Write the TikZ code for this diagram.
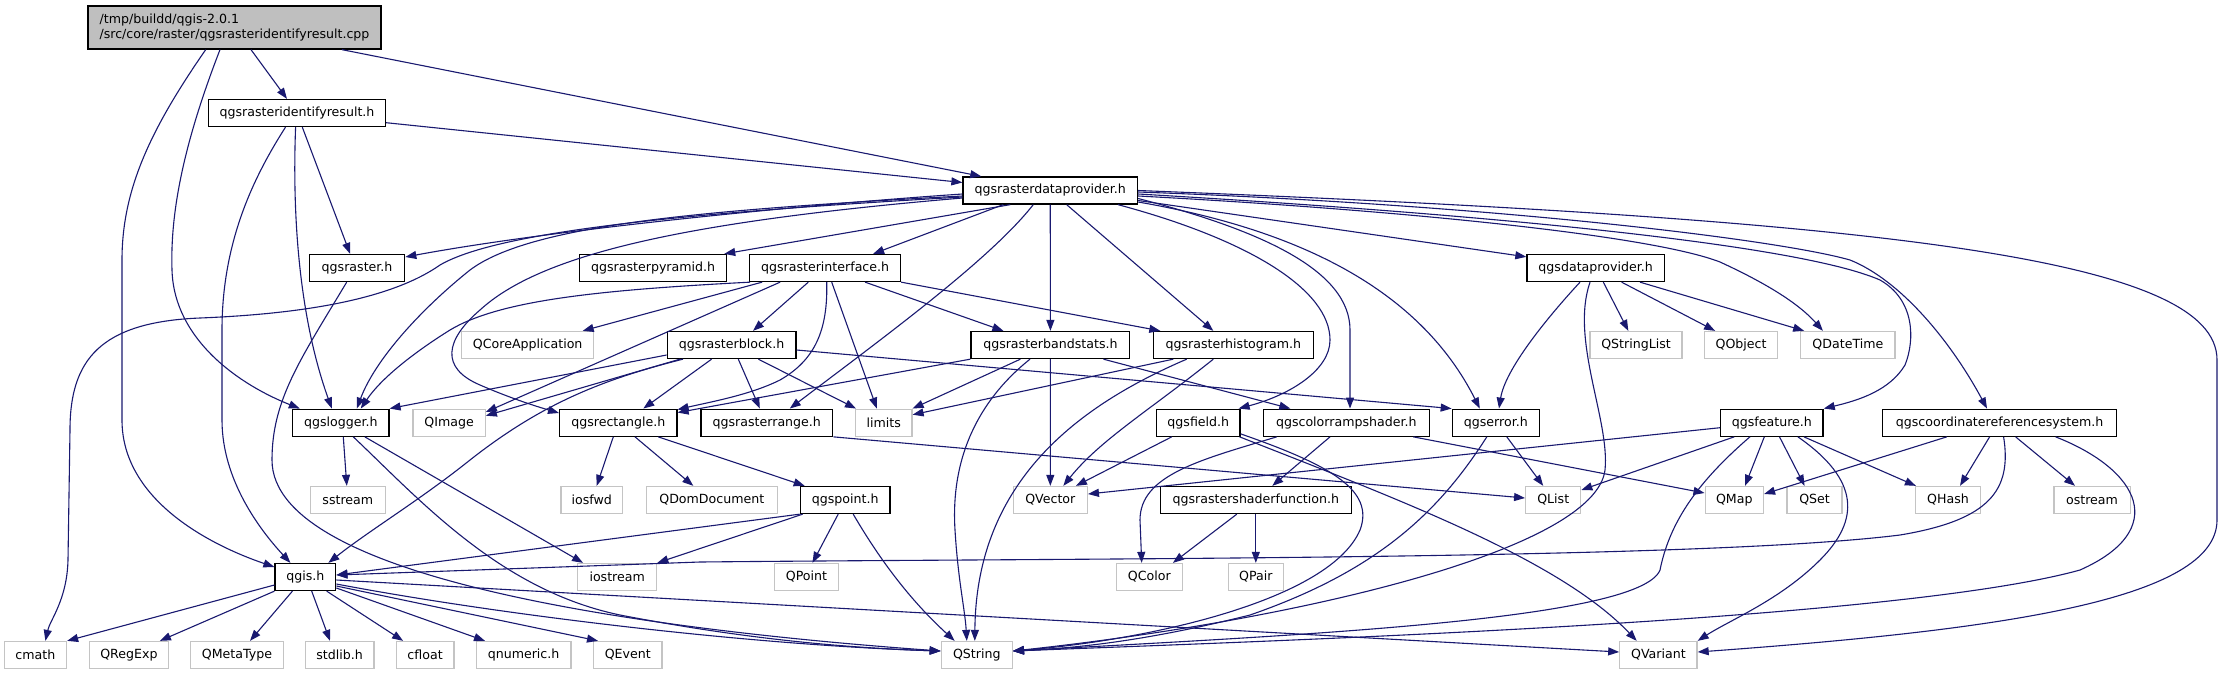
\documentclass[tikz,border=0pt]{standalone}
\usepackage{fontspec}
\setmainfont{DejaVu Sans}
\usetikzlibrary{arrows.meta}
\definecolor{edgecol}{HTML}{191970}
\definecolor{extgray}{HTML}{C4C4C4}
\definecolor{rootfill}{HTML}{BFBFBF}
\begin{document}
\begin{tikzpicture}[x=1pt,y=-1pt,
  basebox/.style={rectangle,inner sep=0pt,minimum height=27pt,fill=white,font=\fontsize{12.6}{15}\selectfont},
  docbox/.style={basebox,draw=black,line width=1.3pt},
  extbox/.style={basebox,draw=extgray,line width=1.3pt},
  edg/.style={draw=edgecol,line width=1.1pt,-{Triangle[length=11pt,width=8pt]}}]
\fill[white] (0,0) rectangle (2223,675);
\useasboundingbox (0,0) rectangle (2223,675);
% nodes
\node[docbox,fill=rootfill,minimum width=293pt,minimum height=43pt,align=left] (root) at (234.5,27.5) {/tmp/buildd/qgis-2.0.1\\/src/core/raster/qgsrasteridentifyresult.cpp};
\node[docbox,minimum width=177pt] (idres) at (297,113) {qgsrasteridentifyresult.h};
\node[docbox,minimum width=174.5pt] (dp) at (1050.25,190.5) {qgsrasterdataprovider.h};
\node[docbox,minimum width=95.2pt] (raster) at (357.1,268) {qgsraster.h};
\node[docbox,minimum width=147pt] (pyramid) at (653.1,268) {qgsrasterpyramid.h};
\node[docbox,minimum width=150.8pt] (iface) at (825.1,268) {qgsrasterinterface.h};
\node[docbox,minimum width=137.3pt] (qdp) at (1595.6,268) {qgsdataprovider.h};
\node[extbox,minimum width=132pt] (qcore) at (527.7,345) {QCoreApplication};
\node[docbox,minimum width=128.7pt] (block) at (731.6,345) {qgsrasterblock.h};
\node[docbox,minimum width=158.8pt] (bandstats) at (1050.4,345) {qgsrasterbandstats.h};
\node[docbox,minimum width=160pt] (histo) at (1233.3,345) {qgsrasterhistogram.h};
\node[extbox,minimum width=92pt] (qstrlist) at (1636,345) {QStringList};
\node[extbox,minimum width=73pt] (qobject) at (1741.1,345) {QObject};
\node[extbox,minimum width=94.2pt] (qdatetime) at (1847.9,345) {QDateTime};
\node[docbox,minimum width=96.3pt] (logger) at (340.8,422.7) {qgslogger.h};
\node[extbox,minimum width=72.3pt] (qimage) at (449.1,422.7) {QImage};
\node[docbox,minimum width=117.3pt] (rect) at (618.3,422.7) {qgsrectangle.h};
\node[docbox,minimum width=131.7pt] (range) at (766.8,422.7) {qgsrasterrange.h};
\node[extbox,minimum width=56.3pt] (limits) at (883.8,422.7) {limits};
\node[docbox,minimum width=83.3pt] (field) at (1198.3,422.7) {qgsfield.h};
\node[docbox,minimum width=166pt] (crshader) at (1346.3,422.7) {qgscolorrampshader.h};
\node[docbox,minimum width=87pt] (error) at (1495.8,422.7) {qgserror.h};
\node[docbox,minimum width=102.4pt] (feature) at (1771.9,422.7) {qgsfeature.h};
\node[docbox,minimum width=233.7pt] (crs) at (1999.6,422.7) {qgscoordinatereferencesystem.h};
\node[extbox,minimum width=75pt] (sstream) at (347.8,500) {sstream};
\node[extbox,minimum width=61.3pt] (iosfwd) at (591.7,500) {iosfwd};
\node[extbox,minimum width=131pt] (qdom) at (711.8,500) {QDomDocument};
\node[docbox,minimum width=89.7pt] (point) at (845.2,500) {qgspoint.h};
\node[extbox,minimum width=74pt] (qvector) at (1050.3,500) {QVector};
\node[docbox,minimum width=191pt] (shfunc) at (1255.8,500) {qgsrastershaderfunction.h};
\node[extbox,minimum width=55pt] (qlist) at (1553.2,500) {QList};
\node[extbox,minimum width=58.3pt] (qmap) at (1734.3,500) {QMap};
\node[extbox,minimum width=55pt] (qset) at (1814.6,500) {QSet};
\node[extbox,minimum width=64.9pt] (qhash) at (1948,500) {QHash};
\node[extbox,minimum width=76.3pt] (ostream) at (2092,500) {ostream};
\node[docbox,minimum width=60.7pt] (qgis) at (305.4,577) {qgis.h};
\node[extbox,minimum width=79pt] (iostream) at (617.2,577) {iostream};
\node[extbox,minimum width=64.4pt] (qpoint) at (806.5,577) {QPoint};
\node[extbox,minimum width=66pt] (qcolor) at (1149.3,577) {QColor};
\node[extbox,minimum width=55pt] (qpair) at (1255.8,577) {QPair};
\node[extbox,minimum width=62.2pt] (cmath) at (35.4,655) {cmath};
\node[extbox,minimum width=79pt] (qregexp) at (128.9,655) {QRegExp};
\node[extbox,minimum width=92.5pt] (qmetatype) at (237,655) {QMetaType};
\node[extbox,minimum width=68.7pt] (stdlib) at (339.6,655) {stdlib.h};
\node[extbox,minimum width=57.7pt] (cfloat) at (425.1,655) {cfloat};
\node[extbox,minimum width=94.7pt] (qnumeric) at (523.6,655) {qnumeric.h};
\node[extbox,minimum width=68.3pt] (qevent) at (627.8,655) {QEvent};
\node[extbox,minimum width=71pt] (qstring) at (976.8,655) {QString};
\node[extbox,minimum width=77.2pt] (qvariant) at (1658.4,655) {QVariant};
% root
\draw[edg] ([xshift=16.5pt]root.south) -- ([xshift=-10pt]idres.north);
\draw[edg] ([xshift=107.5pt]root.south) -- ([xshift=-69pt]dp.north);
\draw[edg] ([xshift=-14.5pt]root.south) .. controls (185,140) and (170,210) .. (172,270) .. controls (174,340) and (240,385) .. ([xshift=-41pt]logger.north);
\draw[edg] ([xshift=-28.8pt]root.south) .. controls (150,130) and (122,190) .. (122,260) -- (122,420) .. controls (122,500) and (210,545) .. ([yshift=10pt]qgis.west);
% identifyresult.h
\draw[edg] ([xshift=-11.5pt]idres.south) .. controls (255,175) and (222,240) .. (222,330) -- (222,420) .. controls (222,480) and (260,530) .. ([xshift=-15pt]qgis.north);
\draw[edg] ([xshift=-1.4pt]idres.south) .. controls (292,220) and (300,320) .. ([xshift=-9pt]logger.north);
\draw[edg] ([xshift=5.3pt]idres.south) -- ([xshift=-7pt]raster.north);
\draw[edg] ([yshift=-9.7pt]idres.east) -- ([yshift=8pt]dp.west);
% raster
\draw[edg] ([xshift=-10.4pt]raster.south) .. controls (300,360) and (272,400) .. (272,460) .. controls (272,580) and (650,630) .. ([yshift=4pt]qstring.west);
% dataprovider left
\draw[edg] ([yshift=-3.5pt]dp.west) .. controls (800,205) and (550,230) .. ([yshift=11pt]raster.east);
\draw[edg] ([xshift=-40pt]dp.south) -- ([xshift=-3pt]pyramid.north east);
\draw[edg] ([yshift=-5.5pt]dp.west) .. controls (700,210) and (530,225) .. (470,270) .. controls (420,310) and (375,360) .. ([xshift=16pt]logger.north);
\draw[edg] ([yshift=-6.5pt]dp.west) .. controls (700,212) and (500,230) .. (440,265) .. controls (390,300) and (300,314) .. (200,318) .. controls (100,322) and (70,360) .. (70,430) -- (68,560) .. controls (67,600) and (50,620) .. ([xshift=10pt]cmath.north);
\draw[edg] ([yshift=-7.5pt]dp.west) .. controls (680,222) and (540,255) .. (480,310) .. controls (445,340) and (440,368) .. (480,385) .. controls (510,398) and (535,406) .. ([yshift=9.7pt]rect.west);
\draw[edg] ([xshift=-47pt]dp.south) -- ([xshift=48pt]iface.north);
\draw[edg] ([xshift=-17pt]dp.south) .. controls (990,260) and (880,340) .. ([xshift=23pt]range.north);
\draw[edg] (dp.south) -- (bandstats.north);
\draw[edg] ([xshift=16.4pt]dp.south) -- ([xshift=-20pt]histo.north);
% dataprovider right
\draw[edg] ([yshift=-10pt]dp.east) -- ([yshift=-3pt]qdp.north west);
\draw[edg] ([yshift=-5.5pt]dp.east) .. controls (1400,210) and (1650,235) .. (1720,262) .. controls (1770,285) and (1800,305) .. ([xshift=-25pt]qdatetime.north);
\draw[edg] ([xshift=67.75pt]dp.south) .. controls (1250,240) and (1330,290) .. (1330,340) .. controls (1330,370) and (1290,395) .. ([xshift=-2pt]field.north east);
\draw[edg] ([yshift=-8pt]dp.east) .. controls (1260,230) and (1350,270) .. (1350,330) -- ([xshift=3.7pt]crshader.north);
\draw[edg] ([yshift=-11.5pt]dp.east) .. controls (1300,230) and (1420,290) .. ([xshift=-16pt]error.north);
\draw[edg] ([yshift=-3.5pt]dp.east) .. controls (1500,215) and (1800,245) .. (1880,280) .. controls (1915,300) and (1915,340) .. (1905,365) .. controls (1890,390) and (1860,400) .. (feature.north east);
\draw[edg] ([yshift=-1.5pt]dp.east) .. controls (1500,205) and (1780,240) .. (1850,260) .. controls (1900,280) and (1950,340) .. ([xshift=-12.6pt]crs.north);
\draw[edg] (dp.east) .. controls (1900,220) and (2217,260) .. (2217,360) -- (2217,520) .. controls (2217,600) and (2000,630) .. ([yshift=3pt]qvariant.east);
% interface
\draw[edg] ([xshift=-75pt]iface.south) .. controls (600,290) and (500,300) .. (450,330) .. controls (410,355) and (380,380) .. ([xshift=20pt]logger.north);
\draw[edg] ([xshift=-63pt]iface.south) -- ([xshift=55pt]qcore.north);
\draw[edg] ([xshift=-45pt]iface.south) -- ([yshift=10.7pt]qimage.east);
\draw[edg] ([xshift=-16.8pt]iface.south) -- ([xshift=21.4pt]block.north);
\draw[edg] ([xshift=6.6pt]iface.south) -- ([xshift=-7pt]limits.north);
\draw[edg] ([xshift=1.6pt]iface.south) .. controls (828,330) and (815,360) .. (780,380) .. controls (750,395) and (710,402) .. ([yshift=-1pt]rect.north east);
\draw[edg] ([xshift=40pt]iface.south) -- ([xshift=-47pt]bandstats.north);
\draw[edg] (iface.south east) -- ([xshift=-73pt]histo.north);
% block
\draw[edg] ([yshift=-10pt]block.west) -- (logger.north east);
\draw[edg] ([xshift=-51.6pt]block.south) -- ([yshift=7pt]qimage.east);
\draw[edg] ([xshift=-20pt]block.south) -- ([xshift=25pt]rect.north);
\draw[edg] ([xshift=6.7pt]block.south) -- ([xshift=-7pt]range.north);
\draw[edg] ([xshift=26.7pt]block.south) -- ([xshift=1pt]limits.north west);
\draw[edg] ([xshift=-48.6pt]block.south) .. controls (600,380) and (540,405) .. (470,460) .. controls (420,500) and (370,530) .. ([xshift=-8pt]qgis.north east);
\draw[edg] ([yshift=-5pt]block.east) -- (error.north west);
% bandstats
\draw[edg] ([xshift=-30pt]bandstats.south) -- (limits.north east);
\draw[edg] (bandstats.south west) -- ([yshift=-4pt]rect.north east);
\draw[edg] ([xshift=-20.4pt]bandstats.south) .. controls (985,395) and (950,450) .. (955,530) .. controls (958,580) and (965,610) .. ([xshift=-10pt]qstring.north);
\draw[edg] (bandstats.south) -- (qvector.north);
\draw[edg] ([xshift=53pt]bandstats.south) -- ([xshift=-56pt]crshader.north);
% histogram
\draw[edg] ([xshift=-60pt]histo.south) -- ([yshift=8pt]limits.east);
\draw[edg] ([xshift=-46.6pt]histo.south) .. controls (1080,405) and (976,480) .. ([xshift=-2pt]qstring.north);
\draw[edg] ([xshift=-20pt]histo.south) .. controls (1150,410) and (1100,440) .. ([xshift=13pt]qvector.north);
% rectangle
\draw[edg] ([xshift=-5pt]rect.south) -- ([xshift=5pt]iosfwd.north);
\draw[edg] ([xshift=16.7pt]rect.south) -- ([xshift=-18.5pt]qdom.north);
\draw[edg] ([xshift=40pt]rect.south) -- ([xshift=5pt]point.north west);
% point
\draw[edg] (point.south west) -- ([yshift=2pt]qgis.east);
\draw[edg] ([xshift=3pt]point.south west) -- (iostream.north east);
\draw[edg] ([xshift=-7pt]point.south) -- ([xshift=6pt]qpoint.north);
\draw[edg] ([xshift=8pt]point.south) .. controls (880,560) and (910,600) .. ([xshift=14pt]qstring.north west);
% qgis
\draw[edg] ([yshift=-8pt]qgis.west) -- (cmath.north east);
\draw[edg] (qgis.south west) -- ([xshift=31pt]qregexp.north);
\draw[edg] ([xshift=-13pt]qgis.south) -- ([xshift=13pt]qmetatype.north);
\draw[edg] ([xshift=6.3pt]qgis.south) -- ([xshift=-9.6pt]stdlib.north);
\draw[edg] ([xshift=21.3pt]qgis.south) -- ([xshift=-22pt]cfloat.north);
\draw[edg] ([yshift=-11pt]qgis.east) -- ([xshift=-38.6pt]qnumeric.north);
\draw[edg] ([yshift=-9pt]qgis.east) -- ([xshift=5pt]qevent.north west);
\draw[edg] ([yshift=-7pt]qgis.east) .. controls (500,615) and (750,645) .. ([yshift=4pt]qstring.west);
\draw[edg] ([yshift=-3pt]qgis.east) -- ([yshift=3pt]qvariant.west);
% logger
\draw[edg] ([xshift=2.5pt]logger.south) -- ([xshift=-1pt]sstream.north);
\draw[edg] ([xshift=24pt]logger.south) -- ([xshift=6pt]iostream.north west);
\draw[edg] ([xshift=12.5pt]logger.south) .. controls (420,500) and (500,590) .. (620,615) .. controls (750,640) and (850,648) .. ([yshift=4pt]qstring.west);
% qgsdataprovider
\draw[edg] ([xshift=-15.6pt]qdp.south) .. controls (1545,320) and (1505,370) .. ([xshift=3.2pt]error.north);
\draw[edg] ([xshift=-5.6pt]qdp.south) .. controls (1570,340) and (1610,420) .. (1605,470) .. controls (1595,550) and (1300,620) .. ([yshift=4pt]qstring.east);
\draw[edg] ([xshift=7.7pt]qdp.south) -- ([xshift=-7.7pt]qstrlist.north);
\draw[edg] ([xshift=26pt]qdp.south) -- ([xshift=-26pt]qobject.north);
\draw[edg] ([xshift=44.4pt]qdp.south) -- ([xshift=4pt]qdatetime.north west);
% error
\draw[edg] ([xshift=11pt]error.south) -- ([xshift=-10pt]qlist.north);
\draw[edg] ([xshift=-9pt]error.south) .. controls (1440,510) and (1380,570) .. (1250,615) .. controls (1150,640) and (1080,648) .. ([yshift=4pt]qstring.east);
% range
\draw[edg] (range.south east) -- ([yshift=2pt]qlist.west);
% field
\draw[edg] ([xshift=-26.6pt]field.south) -- ([xshift=-12pt]qvector.north east);
\draw[edg] ([yshift=3pt]field.south east) .. controls (1330,465) and (1375,490) .. (1360,530) .. controls (1330,600) and (1150,640) .. ([yshift=4pt]qstring.east);
\draw[edg] ([xshift=-1pt]field.south east) .. controls (1400,500) and (1560,560) .. ([xshift=-21.7pt]qvariant.north);
% colorrampshader
\draw[edg] ([xshift=-69.6pt]crshader.south) .. controls (1200,460) and (1140,475) .. (1140,520) -- ([xshift=-7.6pt]qcolor.north);
\draw[edg] ([xshift=-16.3pt]crshader.south) -- ([xshift=16.5pt]shfunc.north);
\draw[edg] ([xshift=67pt]crshader.south) -- ([yshift=7pt]qmap.west);
% shaderfunction
\draw[edg] ([xshift=-19pt]shfunc.south) -- ([xshift=-10pt]qcolor.north east);
\draw[edg] (shfunc.south) -- (qpair.north);
% feature
\draw[edg] ([yshift=-5pt]feature.west) -- ([yshift=6pt]qvector.east);
\draw[edg] ([xshift=-37.7pt]feature.south) -- ([yshift=10pt]qlist.east);
\draw[edg] ([xshift=-22pt]feature.south) .. controls (1700,480) and (1670,520) .. (1660,570) .. controls (1640,620) and (1300,635) .. ([yshift=4pt]qstring.east);
\draw[edg] ([xshift=-7.6pt]feature.south) -- ([xshift=10.7pt]qmap.north);
\draw[edg] ([xshift=7.6pt]feature.south) -- ([xshift=-10pt]qset.north);
\draw[edg] ([xshift=32pt]feature.south) -- ([xshift=1pt]qhash.north west);
\draw[edg] ([xshift=26pt]feature.south) .. controls (1860,480) and (1860,520) .. (1820,560) .. controls (1780,600) and (1730,620) .. (qvariant.north east);
% crs
\draw[edg] ([xshift=-52.8pt]crs.south) -- ([yshift=6pt]qmap.east);
\draw[edg] ([xshift=-10pt]crs.south) -- ([xshift=12pt]qhash.north);
\draw[edg] ([xshift=4pt]crs.south) .. controls (2012,490) and (1990,520) .. (1900,535) .. controls (1700,560) and (1100,558) .. (700,562) -- ([yshift=2pt]qgis.east);
\draw[edg] ([xshift=16pt]crs.south) -- ([xshift=-17pt]ostream.north);
\draw[edg] ([xshift=56pt]crs.south) .. controls (2140,470) and (2170,530) .. (2080,570) .. controls (1900,620) and (1300,640) .. ([yshift=4pt]qstring.east);
\end{tikzpicture}
\end{document}
